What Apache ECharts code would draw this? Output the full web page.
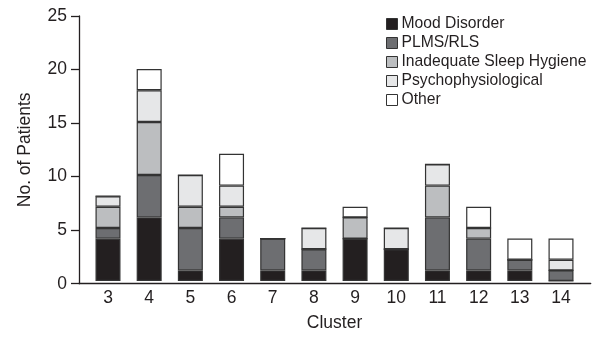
<!DOCTYPE html>
<html>
<head>
<meta charset="utf-8">
<script src="https://cdn.jsdelivr.net/npm/echarts@6/dist/echarts.min.js"></script>
<style>html,body{margin:0;padding:0;background:#fff}#c{width:600px;height:337px}</style>
</head>
<body>
<div id="c"></div>
<script>
var clusters = ['3','4','5','6','7','8','9','10','11','12','13','14'];
var mood  = [4,6,1,4,1,1,4,3,1,1,1,0];
var plms  = [1,4,4,2,3,2,0,0,5,3,1,1];
var ish   = [2,5,2,1,0,0,2,0,3,1,0,0];
var psych = [1,3,3,2,0,2,0,2,2,0,0,1];
var other = [0,2,0,3,0,0,1,0,0,2,2,2];
var yTicks = [0,5,10,15,20,25];

var names = ['Mood Disorder','PLMS/RLS','Inadequate Sleep Hygiene','Psychophysiological','Other'];
var colors = ['#231f20','#6d6e71','#bcbec0','#e6e7e8','#ffffff'];
var dataSets = [mood, plms, ish, psych, other];
var font = 'Liberation Sans, Arial, sans-serif';
var axisColor = '#231f20';

var chart = echarts.init(document.getElementById('c'));
var series = names.map(function(n, i){
  return {
    name: n, type: 'bar', stack: 'total', xAxisIndex: 1, yAxisIndex: 1,
    barWidth: 25,
    data: dataSets[i],
    itemStyle: {color: colors[i], borderColor: '#333333', borderWidth: 1.2},
    emphasis: {disabled: true}
  };
});
chart.setOption({
  animation: false,
  textStyle: {fontFamily: font},
  legend: {
    orient: 'vertical', left: 381, top: 11,
    itemWidth: 11, itemHeight: 11, itemGap: 3,
    icon: 'rect',
    textStyle: {fontSize: 15.7, color: '#231f20', fontFamily: font, padding: [0,0,0,-1]},
    itemStyle: {borderColor: '#333333', borderWidth: 1},
    data: names
  },
  grid: [
    {left: 79, right: 9.3, top: 16, bottom: 53.3},
    {left: 87.4, right: 18.4, top: 16, bottom: 53.3}
  ],
  xAxis: [
    {type: 'value', gridIndex: 0, min: 0, max: 1, axisLabel: {show: false}, axisTick: {show: false}, splitLine: {show: false},
     axisLine: {show: true, lineStyle: {color: axisColor, width: 1.3}}},
    {type: 'category', gridIndex: 1, data: clusters, axisLine: {show: false}, axisTick: {show: false},
     axisLabel: {fontSize: 17.5, color: '#231f20', margin: 8, fontFamily: font},
     name: 'Cluster', nameLocation: 'middle', nameGap: 33,
     nameTextStyle: {fontSize: 17.5, color: '#231f20', fontFamily: font}}
  ],
  yAxis: [
    {type: 'value', gridIndex: 0, min: yTicks[0], max: yTicks[yTicks.length-1], interval: 5,
     axisLine: {show: true, lineStyle: {color: axisColor, width: 1.3}},
     axisTick: {show: true, length: 8, lineStyle: {color: axisColor, width: 1.3}},
     axisLabel: {fontSize: 17.5, color: '#231f20', margin: 12, fontFamily: font},
     splitLine: {show: false},
     name: 'No. of Patients', nameLocation: 'middle', nameGap: 45,
     nameTextStyle: {fontSize: 17.5, color: '#231f20', fontFamily: font}},
    {type: 'value', gridIndex: 1, min: yTicks[0], max: yTicks[yTicks.length-1], show: false, splitLine: {show: false}}
  ],
  series: series
});
</script>
</body>
</html>
